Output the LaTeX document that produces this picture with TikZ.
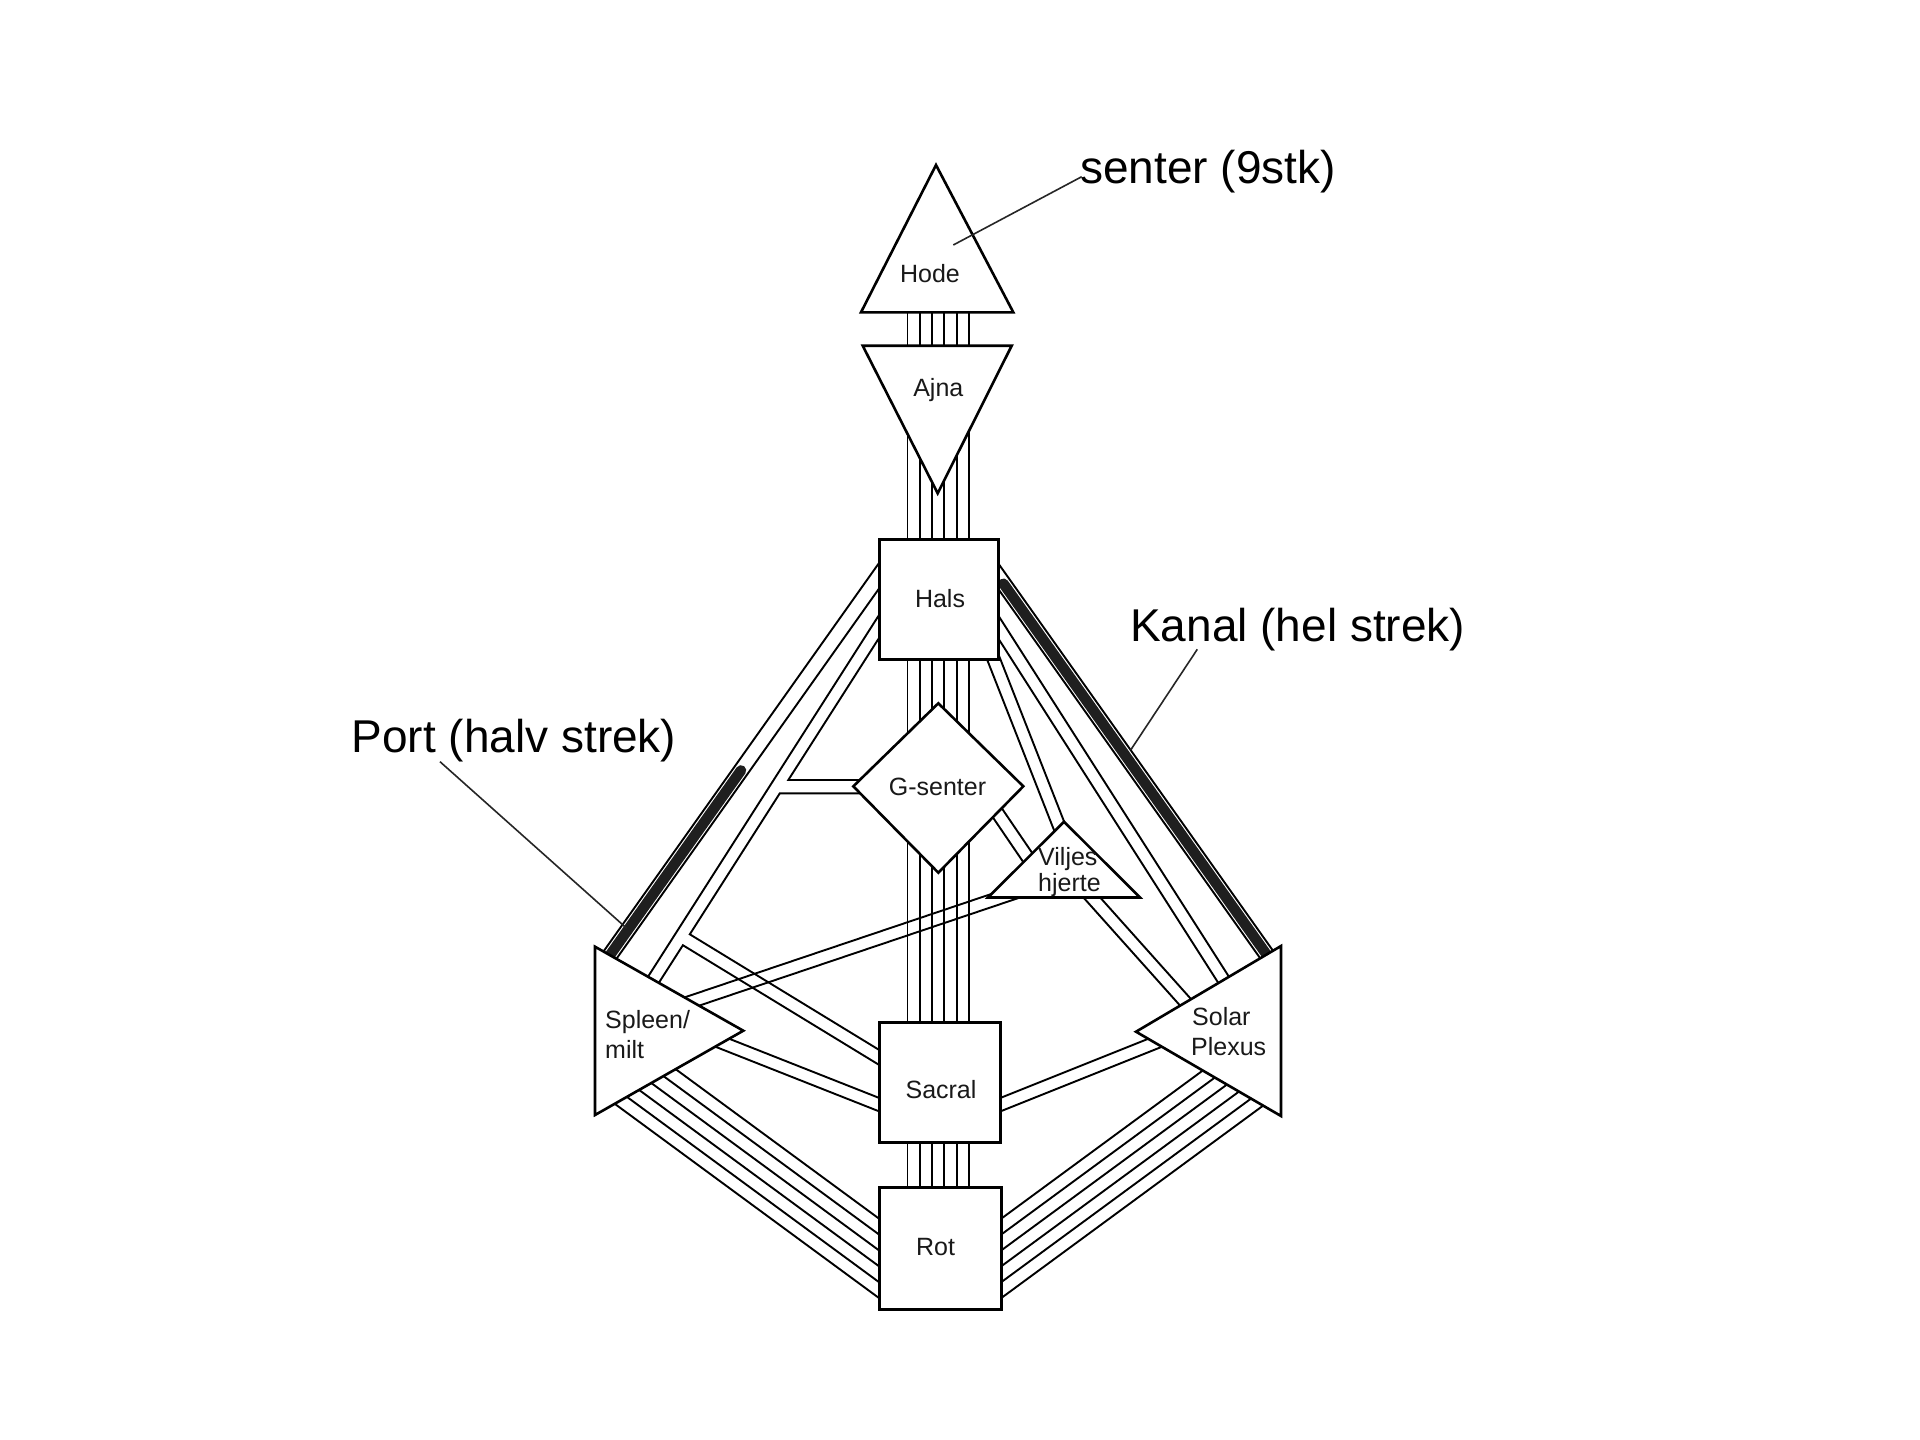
\documentclass[tikz,border=0pt]{standalone}
\usepackage{fontspec}
\setmainfont{Liberation Sans}
\usetikzlibrary{calc}
\pgfdeclarelayer{bg}
\pgfsetlayers{bg,main}
% one line parallel to A--B at signed distance #1
\newcommand\offln[3]{\draw[ch] ($(#2)!#1!90:(#3)$) -- ($(#3)!#1!-90:(#2)$);}
% a pipe: two parallel lines, half spacing #1
\newcommand\hdpipe[3][6.25pt]{\offln{#1}{#2}{#3}\offln{-#1}{#2}{#3}}
\begin{document}
\begin{tikzpicture}[x=1pt,y=-1pt,
  ch/.style={line width=1.9pt,black},
  shp/.style={draw=black,fill=white,line width=2.6pt,line join=miter},
  box/.style={shp,rectangle,inner sep=0pt},
  lbl/.style={inner sep=0pt,font=\fontsize{25}{30}\selectfont,text=black!90},
  lblw/.style={lbl,anchor=base west},
  big/.style={inner sep=0pt,font=\fontsize{46}{55}\selectfont,anchor=base west},
  ptr/.style={line width=1.6pt,black!85},
  gate/.style={line width=10.5pt,line cap=round,black!88}]
\useasboundingbox (0,0) rectangle (1920,1440);

% ---------- centres ----------
\node[box,minimum width=119pt,minimum height=120pt] (hals) at (938.8,599.3) {};
\node[box,minimum width=121.4pt,minimum height=120pt] (sacral) at (940,1082.7) {};
\node[box,minimum width=122pt,minimum height=122pt] (rot) at (940.3,1248.3) {};
\filldraw[shp] (936,165) -- (1013.3,312.3) -- (861,312.3) -- cycle;            % Hode
\filldraw[shp] (862.7,345.7) -- (1011.7,345.7) -- (937.7,493.3) -- cycle;       % Ajna
\filldraw[shp] (938.3,703.3) -- (1023.3,786.3) -- (938.3,872.7) -- (853.3,786.3) -- cycle; % G
\filldraw[shp] (1064,821.7) -- (1140,897.5) -- (988,897.5) -- cycle;           % Viljes hjerte
\filldraw[shp] (595,946.7) -- (743.3,1030.7) -- (595,1115) -- cycle;            % Spleen
\filldraw[shp] (1281,946) -- (1281,1116) -- (1136,1031.7) -- cycle;             % Solar plexus

% ---------- channels ----------
\begin{pgfonlayer}{bg}
\fill[white] (0,0) rectangle (1920,1440);
% vertical bundles
\foreach \x in {907.5,919.8,932.1,944.4,956.7,969}{
  \draw[ch] (\x,300) -- (\x,360);
  \draw[ch] (\x,400) -- (\x,560);
  \draw[ch] (\x,640) -- (\x,760);
  \draw[ch] (\x,820) -- (\x,1040);
  \draw[ch] (\x,1120) -- (\x,1210);
}
% throat outer pipes
\hdpipe[7.4pt]{900,546.2}{607,959.3}
\hdpipe[7.4pt]{977,546.2}{1270,959.3}
% throat inner pipe to solar plexus
\draw[ch] (980,586.8) -- (1243.8,1000);
\draw[ch] (980,609.8) -- (1232.4,1005);
% throat / G / sacral to spleen (merged)
\draw[ch] (895,590) -- (639.5,990);
\draw[ch] (895,613) -- (788.3,780) -- (870,780);
\draw[ch] (870,793.3) -- (779.8,793.3) -- (689.8,934.3) -- (895,1059.6);
\draw[ch] (895,1074.6) -- (682.9,945.2) -- (647.8,1000);
% heart
\hdpipe{982.2,630}{1064.6,840}
\hdpipe{985,794.7}{1035,868.2}
\hdpipe{1075,878.7}{1200,1018.5}
\hdpipe{680,1005.5}{1020,890.9}
% sacral sides
\hdpipe{990,1108.8}{1165,1038.8}
\hdpipe{705,1035.9}{895,1110.9}
% root bundles
\foreach \d in {-32pt,-19.2pt,-6.4pt,6.4pt,19.2pt,32pt}{
  \offln{\d}{630,1075.3}{910,1281.1}
  \offln{\d}{970,1281.3}{1245,1079.2}
}
% defined channel / gate
\draw[gate] (1003.5,583.7) -- (1270,959.3);
\draw[gate] (741,770.4) -- (607,959.3);
\end{pgfonlayer}

% ---------- labels in centres ----------
\node[lbl,anchor=base] (hodeT) at (930,282.7) {Hode};
\node[lbl,anchor=base] (ajnaT) at (938.3,396) {Ajna};
\node[lbl,anchor=base] (halsT) at (940,607.3) {Hals};
\node[lbl,anchor=base] (gT) at (937.5,795) {G-senter};
\node[lblw] (viljesT) at (1038,865) {Viljes};
\node[lblw] (hjerteT) at (1038,891.7) {hjerte};
\node[lblw] (spleenT) at (605,1028.3) {Spleen/};
\node[lblw] (miltT) at (605,1058.3) {milt};
\node[lblw] (solarT) at (1192,1025) {Solar};
\node[lblw] (plexusT) at (1191,1055) {Plexus};
\node[lbl,anchor=base] (sacralT) at (941,1098.3) {Sacral};
\node[lbl,anchor=base] (rotT) at (935.5,1255) {Rot};

% ---------- annotations ----------
\node[big] (senter) at (1080,183.3) {senter (9stk)};
\node[big] (kanal) at (1130,641.7) {Kanal (hel strek)};
\node[big] (port) at (351.5,752.7) {Port (halv strek)};
\coordinate (senterEnd) at (953.3,245);
\coordinate (kanalEnd) at (1130.7,750);
\coordinate (portEnd) at (626.7,928.3);
\draw[ptr] (senter.base west) ++(1.7,-6.6) -- (senterEnd);
\draw[ptr] (1197.3,649.3) -- (kanalEnd);
\draw[ptr] (440,761.7) -- (portEnd);
\end{tikzpicture}
\end{document}
